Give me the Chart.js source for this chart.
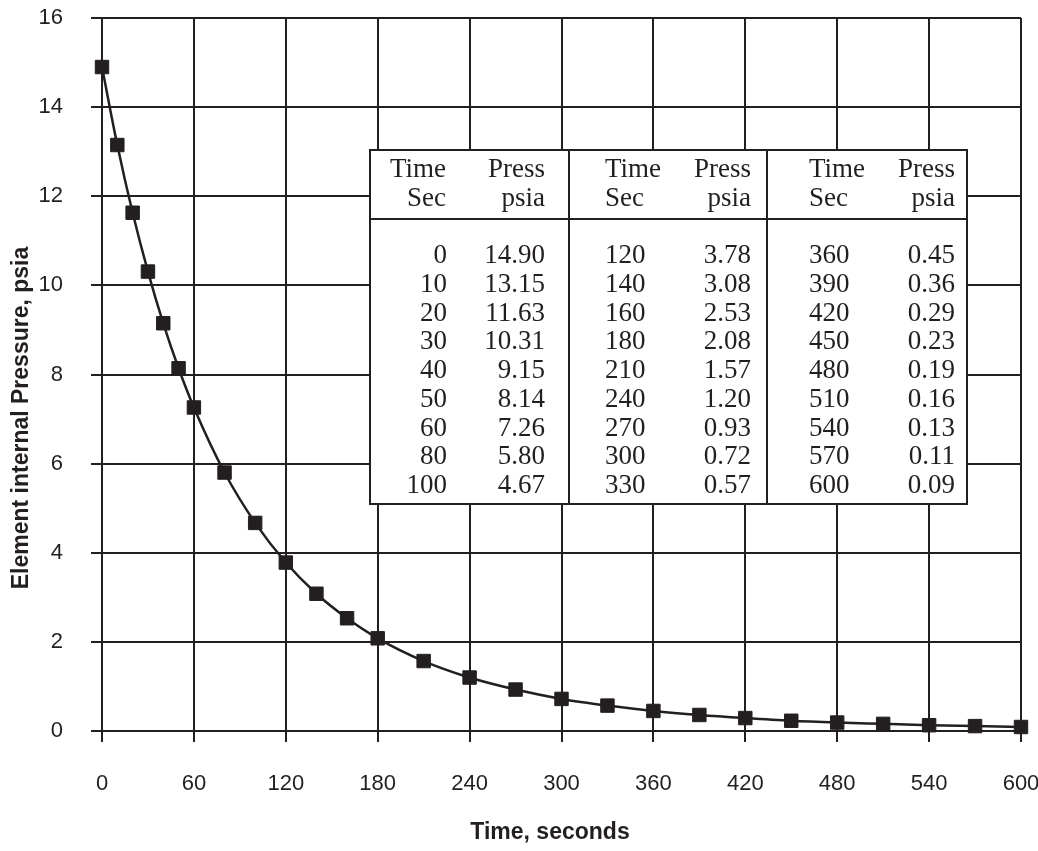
<!DOCTYPE html>
<html>
<head>
<meta charset="utf-8">
<script src="https://cdn.jsdelivr.net/npm/chart.js@4.4.0/dist/chart.umd.min.js"></script>
<style>
  html, body { margin: 0; padding: 0; background: #fff; }
  #wrap { width: 1038px; height: 851px; }
</style>
</head>
<body>
<div id="wrap"><canvas id="pressChart" width="1038" height="851"></canvas></div>
<script>
const times = [0, 10, 20, 30, 40, 50, 60, 80, 100, 120, 140, 160, 180, 210, 240, 270, 300, 330, 360, 390, 420, 450, 480, 510, 540, 570, 600];
const pressures = [14.90, 13.15, 11.63, 10.31, 9.15, 8.14, 7.26, 5.80, 4.67, 3.78, 3.08, 2.53, 2.08, 1.57, 1.20, 0.93, 0.72, 0.57, 0.45, 0.36, 0.29, 0.23, 0.19, 0.16, 0.13, 0.11, 0.09];
const xTicks = [0, 60, 120, 180, 240, 300, 360, 420, 480, 540, 600];
const yTicks = [0, 2, 4, 6, 8, 10, 12, 14, 16];
const xTitle = 'Time, seconds';
const yTitle = 'Element internal Pressure, psia';

const ink = '#231f20';
const titleFont = 'bold 23px "Liberation Sans", Arial, sans-serif';

// axis titles sit a little off-centre in the original, so draw them here
const titlesPlugin = {
    id: 'axisTitles',
    afterDraw(chart) {
        const ctx = chart.ctx;
        ctx.save();
        ctx.fillStyle = ink;
        ctx.font = titleFont;
        ctx.textAlign = 'center';
        ctx.textBaseline = 'middle';
        ctx.fillText(xTitle, 550, 833);
        ctx.translate(22, 418);
        ctx.rotate(-Math.PI / 2);
        ctx.fillText(yTitle, 0, 0);
        ctx.restore();
    }
};

// table drawn over the plot, three blocks of 9 rows
const tablePlugin = {
    id: 'dataTable',
    afterDraw(chart) {
        const ctx = chart.ctx;
        const left = 370, right = 967, top = 150, bottom = 504, headLine = 219;
        const dividers = [569, 767];
        ctx.save();
        ctx.fillStyle = '#fff';
        ctx.fillRect(left, top, right - left, bottom - top);
        ctx.strokeStyle = ink;
        ctx.lineWidth = 2;
        ctx.strokeRect(left, top, right - left, bottom - top);
        ctx.beginPath();
        ctx.moveTo(left, headLine); ctx.lineTo(right, headLine);
        dividers.forEach(x => { ctx.moveTo(x, top); ctx.lineTo(x, bottom); });
        ctx.stroke();

        ctx.fillStyle = ink;
        ctx.font = '27px "Liberation Serif", "Times New Roman", serif';
        ctx.textBaseline = 'alphabetic';
        // [time x, time align, press right x]
        const cols = [[446, 'right', 545], [605, 'left', 751], [809, 'left', 955]];
        cols.forEach((c, b) => {
            ctx.textAlign = c[1];
            ctx.fillText('Time', c[0], 177);
            ctx.fillText('Sec', c[0], 206);
            ctx.textAlign = 'right';
            ctx.fillText('Press', c[2], 177);
            ctx.fillText('psia', c[2], 206);
            for (let r = 0; r < 9; r++) {
                const i = b * 9 + r;
                const y = 263 + r * 28.75;
                ctx.textAlign = c[1];
                ctx.fillText(String(times[i]), b === 0 ? 447 : c[0], y);
                ctx.textAlign = 'right';
                ctx.fillText(pressures[i].toFixed(2), c[2], y);
            }
        });
        ctx.restore();
    }
};

const bgPlugin = {
    id: 'bg',
    beforeDraw(chart) {
        const ctx = chart.ctx;
        ctx.save();
        ctx.fillStyle = '#fff';
        ctx.fillRect(0, 0, chart.width, chart.height);
        ctx.restore();
    }
};

new Chart(document.getElementById('pressChart').getContext('2d'), {
    type: 'line',
    data: {
        datasets: [{
            data: times.map((t, i) => ({ x: t, y: pressures[i] })),
            borderColor: ink,
            borderWidth: 2.5,
            backgroundColor: ink,
            pointStyle: 'rect',
            pointRadius: 9.5,
            pointHoverRadius: 9.5,
            pointBorderWidth: 1,
            cubicInterpolationMode: 'monotone',
            clip: false,
            fill: false
        }]
    },
    options: {
        responsive: false,
        animation: false,
        layout: { padding: { left: 0, top: 18, right: 17, bottom: 0 } },
        plugins: {
            legend: { display: false },
            tooltip: { enabled: false }
        },
        scales: {
            x: {
                type: 'linear',
                min: 0,
                max: 600,
                afterBuildTicks: s => { s.ticks = xTicks.map(v => ({ value: v })); },
                afterFit: s => { s.height = 120; s.paddingLeft = 0; s.paddingRight = 0; },
                grid: { color: ink, lineWidth: 2, tickLength: 11 },
                border: { color: ink, width: 2 },
                ticks: { color: ink, font: { family: '"Liberation Sans", Arial', size: 22 }, padding: 29, maxRotation: 0 },
                title: { display: false }
            },
            y: {
                min: 0,
                max: 16,
                afterBuildTicks: s => { s.ticks = yTicks.map(v => ({ value: v })); },
                afterFit: s => { s.width = 102; s.paddingTop = 0; s.paddingBottom = 0; },
                grid: { color: ink, lineWidth: 2, tickLength: 11 },
                border: { color: ink, width: 2 },
                ticks: { color: ink, font: { family: '"Liberation Sans", Arial', size: 22 }, padding: 28 },
                title: { display: false }
            }
        }
    },
    plugins: [bgPlugin, tablePlugin, titlesPlugin]
});
</script>
</body>
</html>
